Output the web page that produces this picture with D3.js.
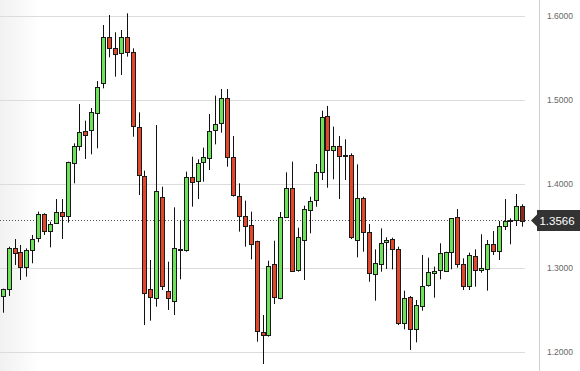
<!DOCTYPE html>
<html>
<head>
<meta charset="utf-8">
<script src="https://cdn.jsdelivr.net/npm/d3@7"></script>
<style>
    body { margin: 0; background: #fff; }
    .tick-label { font-family: "Liberation Sans", Arial, sans-serif; font-size: 8.5px; fill: #666; }
    .price-tag { font-family: "Liberation Sans", Arial, sans-serif; font-size: 11.5px; fill: #fff; }
</style>
</head>
<body>
<div id="chart"></div>
<script>
/* candle values, oldest first */
const opens = [1.2667,1.2746,1.3234,1.3187,1.3008,1.3210,1.3353,1.3639,1.3433,1.3532,
    1.3663,1.3611,1.4258,1.4456,1.4635,1.4635,1.4853,1.5198,1.5746,1.5615,
    1.5556,1.5754,1.5567,1.4683,1.4099,1.2746,1.2651,1.3849,1.2730,1.2599,
    1.3230,1.3222,1.4087,1.4028,1.4254,1.4317,1.4635,1.4722,1.5020,1.4317,
    1.3861,1.3623,1.3508,1.3317,1.2242,1.2210,1.3044,1.2647,1.3611,1.3956,
    1.2968,1.3325,1.3698,1.3802,1.4139,1.4813,1.4413,1.4456,1.4341,1.4341,
    1.3333,1.3829,1.3425,1.2925,1.3056,1.3306,1.3341,1.3222,1.2341,1.2655,
    1.2270,1.2556,1.2790,1.2948,1.2968,1.2968,1.3187,1.3603,1.3044,1.2790,
    1.3147,1.2976,1.2984,1.3282,1.3202,1.3504,1.3571,1.3579,1.3742];
const highs = [1.2754,1.3254,1.3345,1.3274,1.3234,1.3393,1.3671,1.3651,1.3552,1.3821,
    1.3821,1.4266,1.4484,1.4952,1.4754,1.4905,1.5226,1.5893,1.6012,1.5806,
    1.5833,1.6032,1.5615,1.4853,1.4159,1.3095,1.4702,1.3968,1.3075,1.3722,
    1.3571,1.4147,1.4325,1.4294,1.4433,1.4833,1.5052,1.5131,1.5131,1.4571,
    1.4008,1.3802,1.3671,1.3325,1.2440,1.3087,1.3325,1.3667,1.4139,1.4266,
    1.3480,1.3742,1.3849,1.4238,1.4873,1.4929,1.4683,1.4571,1.4532,1.4365,
    1.4234,1.3849,1.3524,1.3222,1.3472,1.3365,1.3361,1.3254,1.2730,1.2667,
    1.2619,1.3155,1.3123,1.3016,1.3294,1.3194,1.3591,1.3702,1.3115,1.3183,
    1.3222,1.3401,1.3333,1.3440,1.3560,1.3821,1.3591,1.3881,1.3758];
const lows = [1.2468,1.2667,1.3036,1.2857,1.2897,1.3056,1.3306,1.3393,1.3246,1.3524,
    1.3345,1.3540,1.4008,1.4397,1.4298,1.4353,1.4425,1.5139,1.5508,1.5278,
    1.5298,1.5516,1.4563,1.3869,1.2321,1.2373,1.2540,1.2738,1.2500,1.2440,
    1.2865,1.3194,1.3730,1.3821,1.4028,1.4167,1.4472,1.4611,1.4206,1.3849,
    1.3433,1.3254,1.3103,1.2123,1.1857,1.2183,1.2571,1.2627,1.3611,1.2956,
    1.2956,1.2857,1.3413,1.3730,1.4048,1.3956,1.4056,1.3821,1.4048,1.3345,
    1.3127,1.3194,1.2837,1.2611,1.2956,1.2988,1.2984,1.2321,1.2270,1.2024,
    1.2115,1.2492,1.2778,1.2647,1.2865,1.2968,1.2984,1.3004,1.2738,1.2738,
    1.2778,1.2944,1.2730,1.3155,1.3095,1.3452,1.3282,1.3500,1.3492];
const closes = [1.2746,1.3234,1.3175,1.3008,1.3210,1.3341,1.3639,1.3440,1.3520,1.3663,
    1.3611,1.4258,1.4456,1.4623,1.4591,1.4853,1.5159,1.5746,1.5615,1.5544,
    1.5746,1.5575,1.4683,1.4107,1.2706,1.2647,1.3921,1.2790,1.2647,1.3234,
    1.3222,1.4087,1.4028,1.4246,1.4317,1.4635,1.4710,1.5020,1.4317,1.3861,
    1.3623,1.3508,1.3282,1.2242,1.2210,1.3028,1.2647,1.3611,1.3956,1.2968,
    1.3365,1.3698,1.3802,1.4139,1.4794,1.4413,1.4456,1.4341,1.4337,1.3361,
    1.3829,1.3425,1.2937,1.3056,1.3302,1.3333,1.3222,1.2341,1.2639,1.2270,
    1.2556,1.2790,1.2948,1.2968,1.3175,1.3194,1.3591,1.3044,1.2778,1.3155,
    1.2984,1.3000,1.3282,1.3202,1.3504,1.3563,1.3575,1.3742,1.3566];

const yTicks = [1.2, 1.3, 1.4, 1.5, 1.6];
const lastPrice = 1.3566;

const width = 580, height = 371;
const plotRight = 525, axisX = 539.5;

const candles = opens.map((o, i) => ({ i, o, h: highs[i], l: lows[i], c: closes[i] }));

const xscale = d3.scaleLinear().domain([0, candles.length - 1]).range([2.7, 522.3]);
const yscale = d3.scaleLinear().domain([1.6, 1.2]).range([16, 352]);

const svg = d3.select('#chart')
    .append('svg')
    .attr('width', width)
    .attr('height', height);

// faint shade on the left edge
const grad = svg.append('defs').append('linearGradient')
    .attr('id', 'bg').attr('x1', 0).attr('x2', 1);
grad.append('stop').attr('offset', 0).attr('stop-color', '#f1f1f1');
grad.append('stop').attr('offset', 1).attr('stop-color', '#ffffff');
svg.append('rect').attr('width', 40).attr('height', height).attr('fill', 'url(#bg)');

// grid
svg.append('g').selectAll('line')
    .data(yTicks)
    .enter().append('line')
    .attr('x1', 0).attr('x2', plotRight)
    .attr('y1', d => Math.round(yscale(d)) + 0.5)
    .attr('y2', d => Math.round(yscale(d)) + 0.5)
    .style('stroke', '#dcdcdc');

// right axis
svg.append('line')
    .attr('x1', axisX).attr('x2', axisX)
    .attr('y1', 0).attr('y2', height)
    .style('stroke', '#cfcfcf');

svg.append('g').selectAll('text')
    .data(yTicks)
    .enter().append('text')
    .attr('class', 'tick-label')
    .attr('x', 573)
    .attr('y', d => yscale(d))
    .attr('dy', '0.35em')
    .style('text-anchor', 'end')
    .text(d => d.toFixed(4));

// current price line
const py = Math.round(yscale(lastPrice)) + 0.5;
svg.append('line')
    .attr('x1', 0).attr('x2', 531)
    .attr('y1', py).attr('y2', py)
    .style('stroke', '#555')
    .style('stroke-dasharray', '1,2');

// candles
const grp = svg.append('g').selectAll('.candle')
    .data(candles)
    .enter().append('g').attr('class', 'candle');

grp.append('line')
    .attr('x1', d => Math.round(xscale(d.i)) + 0.5)
    .attr('x2', d => Math.round(xscale(d.i)) + 0.5)
    .attr('y1', d => yscale(d.h))
    .attr('y2', d => yscale(d.l))
    .style('stroke', '#111');

grp.append('rect')
    .attr('x', d => Math.round(xscale(d.i)) - 1.5)
    .attr('width', 4)
    .attr('y', d => Math.round(yscale(Math.max(d.o, d.c))) + 0.5)
    .attr('height', d => Math.max(1, Math.round(Math.abs(yscale(d.o) - yscale(d.c)))))
    .style('fill', d => {
        if (d.i === candles.length - 1) return '#8a2c1c';
        return d.c >= d.o ? '#6ee05a' : '#e0472b';
    })
    .style('stroke', '#1a1a1a');

// price tag
const tag = svg.append('g').attr('transform', `translate(0, ${yscale(lastPrice)})`);
tag.append('path')
    .attr('d', 'M531,0 L537,-6 L537,-10.5 L580,-10.5 L580,10.5 L537,10.5 L537,6 Z')
    .style('fill', '#333');
tag.append('text')
    .attr('class', 'price-tag')
    .attr('x', 557)
    .attr('dy', '0.36em')
    .style('text-anchor', 'middle')
    .text(lastPrice.toFixed(4));
</script>
</body>
</html>
